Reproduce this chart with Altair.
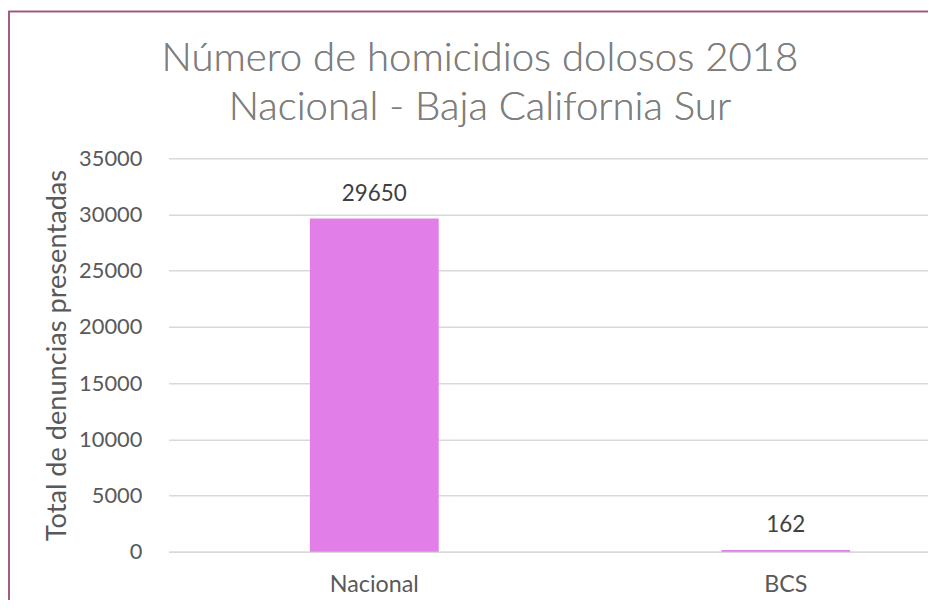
import altair as alt
import pandas as pd

categories = ["Nacional", "BCS"]
values = [29650, 162]
y_ticks = [0, 5000, 10000, 15000, 20000, 25000, 30000, 35000]
title_lines = ["Número de homicidios dolosos 2018", "Nacional - Baja California Sur"]

df = pd.DataFrame({"cat": categories, "val": values})

W, H = 768, 397
PAD_L, PAD_T, PAD_B = 160, 149, 46

xscale = alt.Scale(domain=categories, range=[2, 832], paddingInner=0.687, paddingOuter=0.3435)
yscale = alt.Scale(domain=[0, 35000], nice=False)

base = alt.Chart(df)

bars = base.mark_bar(color="#E17EE8").encode(
    x=alt.X("cat:N", scale=xscale, sort=categories, title=None,
            axis=alt.Axis(labelAngle=0, labelFontSize=23.5, labelColor="#595959", labelFont="Lato",
                          ticks=False, domainColor="#D9D9D9", domainWidth=1.5, labelPadding=21)),
    y=alt.Y("val:Q", scale=yscale, title="Total de denuncias presentadas",
            axis=alt.Axis(values=y_ticks, format="d", labelFontSize=22, labelColor="#595959", labelFont="Lato",
                          ticks=False, domain=False, gridColor="#D9D9D9", gridWidth=1.5,
                          labelPadding=25, titleFontSize=27.4, titleFont="Lato", titleFontWeight="normal",
                          titleColor="#595959", titlePadding=7)),
)

labels = base.mark_text(fontSize=22.6, color="#404040", font="Lato", baseline="alphabetic", dy=-18).encode(
    x=alt.X("cat:N", scale=xscale, sort=categories),
    y=alt.Y("val:Q", scale=yscale),
    text=alt.Text("val:Q", format="d"),
)

title1 = base.mark_text(fontSize=40.5, font="Lato", fontWeight=300, color="#7F7F7F",
                        baseline="alphabetic", align="center", text=title_lines[0]).encode(
    x=alt.value(316), y=alt.value(-88))
title2 = base.mark_text(fontSize=40.5, font="Lato", fontWeight=300, color="#7F7F7F",
                        baseline="alphabetic", align="center", text=title_lines[1]).encode(
    x=alt.value(316), y=alt.value(-39))

border = base.mark_rect(fill=None, stroke="#A0527A", strokeWidth=1.5).encode(
    x=alt.value(-PAD_L + 1), x2=alt.value(W + 200),
    y=alt.value(-PAD_T + 1), y2=alt.value(H + 200),
)

chart = alt.layer(bars, labels, title1, title2, border).properties(
    width=W, height=H,
    padding={"left": PAD_L, "top": PAD_T, "right": 0, "bottom": PAD_B},
    autosize=alt.AutoSizeParams(type="none"),
).configure_view(stroke=None)

chart.save("out.html", embed_options={"renderer": "svg", "actions": False})
